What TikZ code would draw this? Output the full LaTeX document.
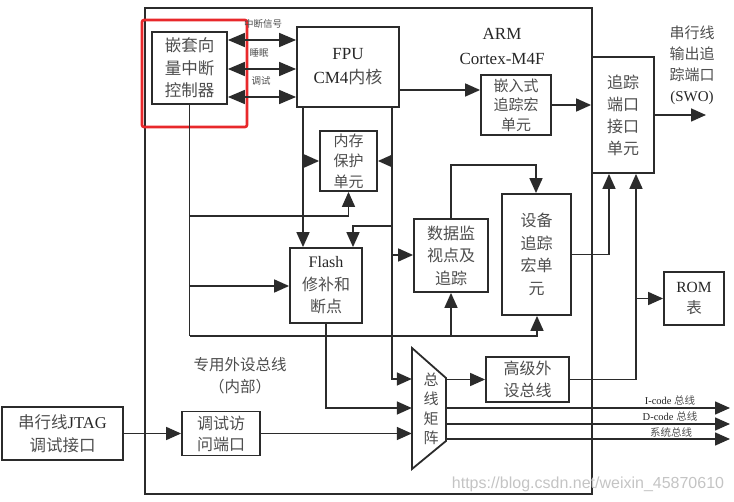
\documentclass[tikz,border=0pt]{standalone}
\usepackage{fontspec}
\setmainfont{Liberation Serif}
\newfontfamily\cjk{Noto Sans CJK SC}
\newfontfamily\wmfont{Liberation Sans}
\usetikzlibrary{arrows.meta}
\definecolor{linec}{HTML}{2B2B2B}
\definecolor{zhc}{HTML}{4E4E4E}
\definecolor{enc}{HTML}{262626}
\definecolor{redc}{HTML}{E8282B}
\definecolor{wmc}{HTML}{C4C4C4}
\newcommand\zh[1]{{\cjk\color{zhc}#1}}
\newcommand\fs[2]{\fontsize{#1}{#2}\selectfont}
\begin{document}
\begin{tikzpicture}[x=1pt,y=-1pt,
  box/.style={draw=linec, line width=1.8pt, fill=white, inner sep=0pt, align=center, text=enc},
  lnk/.style={draw=linec, line width=1.6pt},
  arr/.style={lnk, -{Triangle[length=15pt,width=13pt]}},
  dbl/.style={lnk, {Triangle[length=17pt,width=14pt]}-{Triangle[length=17pt,width=14pt]}},
  lbl/.style={inner sep=0pt, align=center, text=enc},
  small/.style={inner sep=0pt, font=\fs{9.5}{10}},
  buslbl/.style={inner sep=0pt, text=enc, font=\fs{10.5}{11}}]
\useasboundingbox (0,0) rectangle (734,502);

% outer boundary
\node[draw=linec, line width=1.8pt, minimum width=447pt, minimum height=486pt, inner sep=0pt] (arm) at (368.5,251) {};

% highlight
\node[draw=redc, line width=2.6pt, rounded corners=2pt, minimum width=105pt, minimum height=107pt, inner sep=0pt] (hl) at (194.5,73.5) {};

% boxes
\node[box, minimum width=75pt, minimum height=72pt, font=\fs{16.5}{22.5}] (nvic) at (189.5,68) {\zh{嵌套向}\\\zh{量中断}\\\zh{控制器}};
\node[box, minimum width=102pt, minimum height=80pt, font=\fs{17}{24}] (fpu) at (348,67) {FPU\\CM4\zh{内核}};
\node[box, minimum width=70pt, minimum height=60pt, font=\fs{15}{19.5}] (etm) at (516,105) {\zh{嵌入式}\\\zh{追踪宏}\\\zh{单元}};
\node[box, minimum width=62pt, minimum height=116pt, font=\fs{16}{22}] (tpiu) at (623,115) {\zh{追踪}\\\zh{端口}\\\zh{接口}\\\zh{单元}};
\node[box, minimum width=57pt, minimum height=60pt, font=\fs{15}{20.5}] (mpu) at (348.5,161) {\zh{内存}\\\zh{保护}\\\zh{单元}};
\node[box, minimum width=72pt, minimum height=75pt, font=\fs{16}{22.5}] (flash) at (326,285.5) {Flash\\\zh{修补和}\\\zh{断点}};
\node[box, minimum width=74pt, minimum height=73pt, font=\fs{16}{22.5}] (dwt) at (451,255.5) {\zh{数据监}\\\zh{视点及}\\\zh{追踪}};
\node[box, minimum width=69pt, minimum height=121pt, font=\fs{16}{22.5}] (devt) at (536.5,254.5) {\zh{设备}\\\zh{追踪}\\\zh{宏单}\\\zh{元}};
\node[box, minimum width=60pt, minimum height=53pt, font=\fs{15.5}{21}] (rom) at (694,298.5) {ROM\\\zh{表}};
\node[box, minimum width=83pt, minimum height=45pt, font=\fs{16}{22}] (apb) at (527.5,379.5) {\zh{高级外}\\\zh{设总线}};
\node[box, minimum width=121pt, minimum height=53pt, font=\fs{16.5}{23}] (jtag) at (62.5,433.5) {\zh{串行线}JTAG\\\zh{调试接口}};
\node[box, minimum width=78pt, minimum height=44pt, font=\fs{16}{21}] (dap) at (221,433.5) {\zh{调试访}\\\zh{问端口}};

% bus matrix (trapezoid)
\node[inner sep=0pt, minimum width=34pt, minimum height=121pt] (bm) at (429,408.5) {};
\draw[draw=linec, line width=1.8pt, fill=white, line join=miter] (412,348) -- (446,378) -- (446,441) -- (412,469) -- cycle;
\node[lbl, font=\fs{15}{19.5}] (bmt) at (431,409) {\zh{总}\\\zh{线}\\\zh{矩}\\\zh{阵}};

% labels
\node[lbl, font=\fs{17}{25}] (armlbl) at (502,46) {ARM\\Cortex-M4F};
\node[lbl, font=\fs{15}{21}] (swolbl) at (692,65) {\zh{串行线}\\\zh{输出追}\\\zh{踪端口}\\(SWO)};
\node[lbl, font=\fs{15.5}{22}] (ppb) at (240,376) {\zh{专用外设总线}\\\zh{（内部）}};
\node[small] (l1) at (263,24) {\zh{中断信号}};
\node[small] (l2) at (259,53) {\zh{睡眠}};
\node[small] (l3) at (261,81) {\zh{调试}};
\node[buslbl] (b1) at (670,400) {I-code \zh{总线}};
\node[buslbl] (b2) at (670,416.5) {D-code \zh{总线}};
\node[buslbl] (b3) at (671,432) {\zh{系统总线}};

% helper coordinates
\coordinate (h1) at (0,40);
\coordinate (h2) at (0,69);
\coordinate (h3) at (0,97);
\coordinate (e1) at (0,90);
\coordinate (swo) at (706,115);
\coordinate (vA) at (303,161);
\coordinate (vB) at (392,161);
\coordinate (m1) at (392,379);
\coordinate (f2) at (392,226);
\coordinate (f2a) at (353,226);
\coordinate (d1) at (392,255);
\coordinate (n1) at (189.5,216);
\coordinate (n1a) at (348.5,216);
\coordinate (n2) at (189.5,286);
\coordinate (n3) at (189.5,336);
\coordinate (n3a) at (537,336);
\coordinate (n3b) at (451,336);
\coordinate (t1) at (451,165);
\coordinate (t2) at (536,165);
\coordinate (r1) at (609,256);
\coordinate (r2) at (636,300);
\coordinate (m2) at (326,408);
\coordinate (o1) at (730,408);
\coordinate (o2) at (730,424);
\coordinate (o3) at (730,439);

% NVIC <-> FPU
\draw[dbl] (nvic.east |- h1) -- (fpu.west |- h1);
\draw[dbl] (nvic.east |- h2) -- (fpu.west |- h2);
\draw[dbl] (nvic.east |- h3) -- (fpu.west |- h3);

% FPU -> ETM -> TPIU -> SWO
\draw[arr] (fpu.east |- e1) -- (etm.west |- e1);
\draw[arr] (etm.east) -- (etm.east -| tpiu.west);
\draw[arr] (tpiu.east |- swo) -- (swo);

% left core line
\draw[arr] (fpu.south -| vA) -- (flash.north -| vA);
\draw[arr] (vA) -- (mpu.west);

% right core line
\draw[arr] (fpu.south -| m1) -- (m1) -- (bm.west |- m1);
\draw[arr] (vB) -- (mpu.east);
\draw[arr] (f2) -- (f2a) -- (flash.north -| f2a);
\draw[arr] (d1) -- (dwt.west |- d1);

% NVIC bus
\draw[lnk] (nvic.south) -- (n3);
\draw[arr] (n1) -- (n1a) -- (mpu.south);
\draw[arr] (n2) -- (flash.west |- n2);
\draw[arr] (n3) -- (n3a) -- (devt.south -| n3a);
\draw[arr] (n3b) -- (dwt.south);

% DWT -> device trace
\draw[arr] (dwt.north) -- (t1) -- (t2) -- (devt.north -| t2);

% device trace -> TPIU
\draw[arr] (devt.east) -- (devt.east -| r1) -- (tpiu.south -| r1);

% APB -> TPIU, ROM
\draw[arr] (apb.east) -- (apb.east -| r2) -- (tpiu.south -| r2);
\draw[arr] (rom.west -| r2) -- (rom.west);

% flash -> matrix
\draw[arr] (flash.south) -- (m2) -- (bm.west |- m2);

% JTAG -> DAP -> matrix
\draw[arr] (jtag.east) -- (dap.west);
\draw[arr] (dap.east) -- (bm.west |- dap.east);

% matrix -> APB and outputs
\draw[arr] (bm.east |- apb.west) -- (apb.west);
\draw[arr] (bm.east |- o1) -- (o1);
\draw[arr] (bm.east |- o2) -- (o2);
\draw[arr] (bm.east |- o3) -- (o3);

% watermark
\node[inner sep=0pt, text=wmc, font=\wmfont\fs{16}{18}] (wm) at (588,484) {https://blog.csdn.net/weixin\_45870610};
\end{tikzpicture}
\end{document}
